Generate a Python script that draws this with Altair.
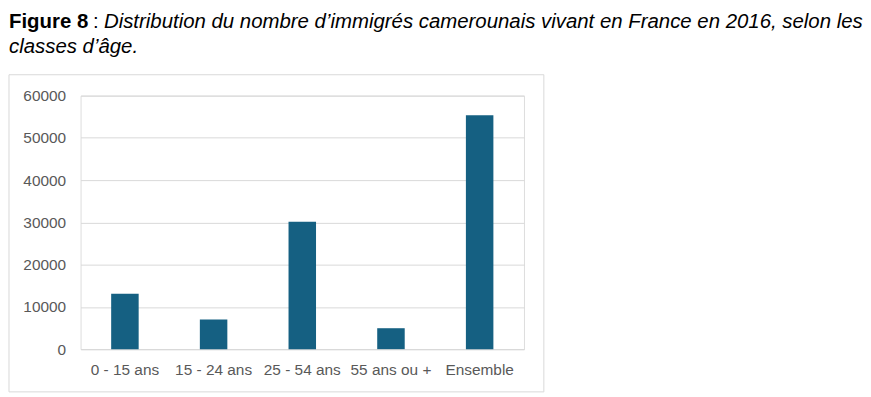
import altair as alt
import pandas as pd

categories = ["0 - 15 ans", "15 - 24 ans", "25 - 54 ans", "55 ans ou +", "Ensemble"]
values = [13100, 7000, 30150, 4950, 55350]
y_ticks = [0, 10000, 20000, 30000, 40000, 50000, 60000]

title_bold = "Figure 8"
title_colon = ":"
title_line1 = "Distribution du nombre d\u2019immigrés camerounais vivant en France en 2016, selon les"
title_line2 = "classes d\u2019âge."

df = pd.DataFrame({"cat": categories, "val": values})

W, H = 446, 255
FONT = "Liberation Sans"
TFS = 20.5
LABEL_COLOR = "#595959"
GRID = "#d9d9d9"
BAR = "#156082"

one = alt.Data(values=[{"k": 1}])

frame = alt.Chart(one).mark_rect(
    fillOpacity=0, stroke=GRID, strokeWidth=1
).encode(
    x=alt.value(-72), x2=alt.value(466), y=alt.value(-21), y2=alt.value(298)
)

t_bold = alt.Chart(one).mark_text(
    text=title_bold, font=FONT, fontSize=TFS, fontWeight="bold",
    align="left", baseline="alphabetic", color="#000000"
).encode(x=alt.value(-72), y=alt.value(-68))

t_colon = alt.Chart(one).mark_text(
    text=title_colon, font=FONT, fontSize=TFS,
    align="left", baseline="alphabetic", color="#000000"
).encode(x=alt.value(12.5), y=alt.value(-68))

t_l1 = alt.Chart(one).mark_text(
    text=title_line1, font=FONT, fontSize=TFS, fontStyle="italic",
    align="left", baseline="alphabetic", color="#000000"
).encode(x=alt.value(23.5), y=alt.value(-68))

t_l2 = alt.Chart(one).mark_text(
    text=title_line2, font=FONT, fontSize=TFS, fontStyle="italic",
    align="left", baseline="alphabetic", color="#000000"
).encode(x=alt.value(-72), y=alt.value(-43))

bars = alt.Chart(df).mark_bar(color=BAR).encode(
    x=alt.X("cat:N", sort=categories, title=None,
            scale=alt.Scale(paddingInner=0.69, paddingOuter=0.345),
            axis=alt.Axis(labelAngle=0, ticks=False, tickSize=0, domain=True,
                          domainColor=GRID, labelPadding=14, labelFontSize=15.5,
                          labelFont=FONT, labelColor=LABEL_COLOR, grid=False)),
    y=alt.Y("val:Q", title=None,
            scale=alt.Scale(domain=[0, 60000], nice=False),
            axis=alt.Axis(values=y_ticks, format="d", ticks=False, tickSize=0,
                          domain=False, grid=True, gridColor=GRID,
                          labelPadding=15, labelFontSize=15.5, labelFont=FONT,
                          labelColor=LABEL_COLOR)),
)

chart = alt.layer(frame, bars, t_bold, t_colon, t_l1, t_l2).properties(
    width=W, height=H,
    padding={"left": 0, "top": 3, "right": 0, "bottom": 0}
).configure_view(stroke=None).configure(background="white")

chart.save("out.html", embed_options={"renderer": "svg", "actions": False})
